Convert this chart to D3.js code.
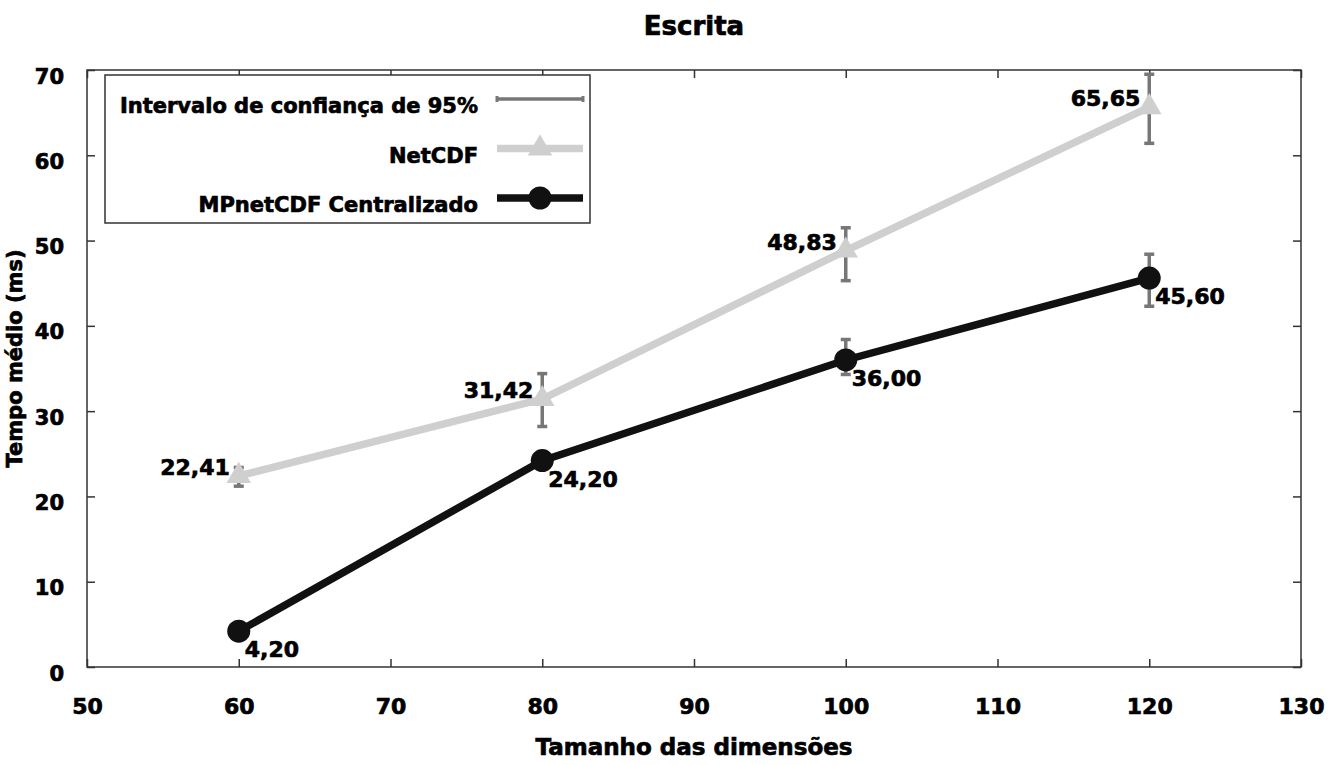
<!DOCTYPE html>
<html>
<head>
<meta charset="utf-8">
<script src="https://cdn.jsdelivr.net/npm/d3@7"></script>
<style>
  body { margin: 0; background: #fff; }
  text { font-family: "DejaVu Sans", "Liberation Sans", sans-serif; font-weight: bold; fill: #000; stroke: #000; stroke-width: 0.7px; }
</style>
</head>
<body>
<div id="chart"></div>
<script>
// data
var dims = [60, 80, 100, 120];
var netcdf = [22.41, 31.42, 48.83, 65.65];
var netcdfLow = [21.2, 28.2, 45.3, 61.4];
var netcdfHigh = [23.4, 34.4, 51.5, 69.5];
var mpnetcdf = [4.20, 24.20, 36.00, 45.60];
var mpLow = [3.7, 23.6, 34.3, 42.3];
var mpHigh = [4.7, 24.8, 38.4, 48.4];
var xTicks = [50, 60, 70, 80, 90, 100, 110, 120, 130];
var yTicks = [0, 10, 20, 30, 40, 50, 60, 70];

var fmt = function(v) { return v.toFixed(2).replace(".", ","); };

// set the dimensions and margins of the graph
var margin = {top: 70, right: 41, bottom: 98, left: 87},
    width = 1342 - margin.left - margin.right,
    height = 765 - margin.top - margin.bottom;

var x = d3.scaleLinear().domain([50, 130]).range([0, width]);
var y = d3.scaleLinear().domain([0, 70]).range([height, 0]);

var svg = d3.select("#chart").append("svg")
    .attr("width", 1342)
    .attr("height", 765)
  .append("g")
    .attr("transform", "translate(" + margin.left + "," + margin.top + ")");

// title
svg.append("text")
    .attr("x", width / 2)
    .attr("y", -35)
    .attr("text-anchor", "middle")
    .style("font-size", "26px")
    .text("Escrita");

// frame
svg.append("rect")
    .attr("width", width)
    .attr("height", height)
    .attr("fill", "none")
    .attr("stroke", "#333")
    .attr("stroke-width", 1.5);

// axes
var xAxis = svg.append("g")
    .attr("transform", "translate(0," + height + ")")
    .call(d3.axisBottom(x).tickValues(xTicks).tickSizeInner(-8).tickSizeOuter(0).tickPadding(31));
xAxis.selectAll("text").style("font-size", "22px");

svg.append("g")
    .call(d3.axisTop(x).tickValues(xTicks).tickSizeInner(-8).tickSizeOuter(0).tickFormat(""));

var yAxis = svg.append("g")
    .call(d3.axisLeft(y).tickValues(yTicks).tickSizeInner(-8).tickSizeOuter(0).tickPadding(23));
yAxis.selectAll("text").style("font-size", "21px").attr("dy", "0.62em");

svg.append("g")
    .attr("transform", "translate(" + width + ",0)")
    .call(d3.axisRight(y).tickValues(yTicks).tickSizeInner(-8).tickSizeOuter(0).tickFormat(""));

svg.selectAll(".domain").remove();
svg.selectAll(".tick line").attr("stroke", "#333").attr("stroke-width", 1.5);

// axis titles
svg.append("text")
    .attr("x", width / 2)
    .attr("y", height + 88)
    .attr("text-anchor", "middle")
    .style("font-size", "23px")
    .text("Tamanho das dimensões");

svg.append("text")
    .attr("transform", "rotate(-90)")
    .attr("x", -(height / 2) + 10)
    .attr("y", -65)
    .attr("text-anchor", "middle")
    .style("font-size", "21px")
    .text("Tempo médio (ms)");

var line = d3.line()
    .x(function(d) { return x(d[0]); })
    .y(function(d) { return y(d[1]); });

var series = [
  {name: "NetCDF", vals: netcdf, lo: netcdfLow, hi: netcdfHigh, color: "#cfcfcf", marker: "triangle"},
  {name: "MPnetCDF Centralizado", vals: mpnetcdf, lo: mpLow, hi: mpHigh, color: "#111", marker: "circle"}
];

var triangle = d3.symbol().type(d3.symbolTriangle).size(260);

series.forEach(function(s) {
  var pts = dims.map(function(d, i) { return [d, s.vals[i]]; });

  svg.append("path")
      .datum(pts)
      .attr("fill", "none")
      .attr("stroke", s.color)
      .attr("stroke-width", 7.5)
      .attr("d", line);

  // error bars
  var eb = svg.append("g").attr("stroke", "#777").attr("stroke-width", 3.5);
  dims.forEach(function(d, i) {
    eb.append("line").attr("x1", x(d)).attr("x2", x(d)).attr("y1", y(s.lo[i])).attr("y2", y(s.hi[i]));
    eb.append("line").attr("x1", x(d) - 5).attr("x2", x(d) + 5).attr("y1", y(s.lo[i])).attr("y2", y(s.lo[i]));
    eb.append("line").attr("x1", x(d) - 5).attr("x2", x(d) + 5).attr("y1", y(s.hi[i])).attr("y2", y(s.hi[i]));
  });

  // markers
  if (s.marker === "circle") {
    svg.selectAll(".m" + s.marker).data(pts).enter().append("circle")
        .attr("cx", function(d) { return x(d[0]); })
        .attr("cy", function(d) { return y(d[1]); })
        .attr("r", 11.5)
        .attr("fill", s.color);
  } else {
    svg.selectAll(".m" + s.marker).data(pts).enter().append("path")
        .attr("d", triangle)
        .attr("transform", function(d) { return "translate(" + x(d[0]) + "," + y(d[1]) + ")"; })
        .attr("fill", s.color);
  }
});

// value labels
svg.selectAll(".lblN").data(dims).enter().append("text")
    .attr("x", function(d) { return x(d) - 9; })
    .attr("y", function(d, i) { return y(netcdf[i]) - 1; })
    .attr("text-anchor", "end")
    .style("font-size", "22px")
    .text(function(d, i) { return fmt(netcdf[i]); });

svg.selectAll(".lblM").data(dims).enter().append("text")
    .attr("x", function(d) { return x(d) + 6; })
    .attr("y", function(d, i) { return y(mpnetcdf[i]) + 26; })
    .attr("text-anchor", "start")
    .style("font-size", "22px")
    .text(function(d, i) { return fmt(mpnetcdf[i]); });

// legend
var lg = svg.append("g").attr("transform", "translate(18,5)");
lg.append("rect")
    .attr("width", 485)
    .attr("height", 148)
    .attr("fill", "#fff")
    .attr("stroke", "#333")
    .attr("stroke-width", 1.5);

var rows = [
  {label: "Intervalo de confiança de 95%", type: "err"},
  {label: "NetCDF", type: "triangle"},
  {label: "MPnetCDF Centralizado", type: "circle"}
];
rows.forEach(function(r, i) {
  var cy = 24 + i * 49.5;
  lg.append("text")
      .attr("x", 373)
      .attr("y", cy + 14)
      .attr("text-anchor", "end")
      .style("font-size", "21px")
      .text(r.label);
  if (r.type === "err") {
    lg.append("line").attr("x1", 392).attr("x2", 478).attr("y1", cy).attr("y2", cy)
        .attr("stroke", "#777").attr("stroke-width", 3.5);
    [392, 478].forEach(function(px) {
      lg.append("line").attr("x1", px).attr("x2", px).attr("y1", cy - 3).attr("y2", cy + 3)
          .attr("stroke", "#777").attr("stroke-width", 3);
    });
  } else {
    var c = r.type === "circle" ? "#111" : "#cfcfcf";
    lg.append("line").attr("x1", 392).attr("x2", 478).attr("y1", cy).attr("y2", cy)
        .attr("stroke", c).attr("stroke-width", 7.5);
    if (r.type === "circle") {
      lg.append("circle").attr("cx", 435).attr("cy", cy).attr("r", 11.5).attr("fill", c);
    } else {
      lg.append("path").attr("d", triangle).attr("transform", "translate(435," + cy + ")").attr("fill", c);
    }
  }
});
</script>
</body>
</html>
